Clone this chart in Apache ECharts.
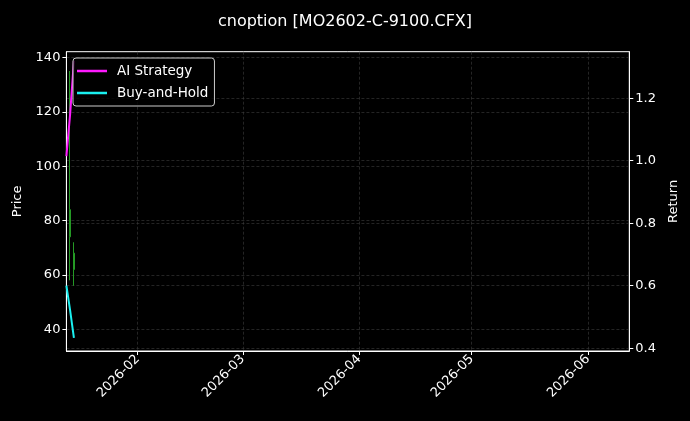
<!DOCTYPE html>
<html>
<head>
<meta charset="utf-8">
<script src="https://cdn.jsdelivr.net/npm/echarts@6/dist/echarts.min.js"></script>
<style>
  html, body { margin: 0; padding: 0; background: #000; }
  #main { width: 690px; height: 421px; }
</style>
</head>
<body>
<div id="main"></div>
<script>
// 日期和数据
var dates = ['2026-01-13', '2026-01-14', '2026-01-15']
var aiReturn = [1.015, 1.15, 1.32]
var bhReturn = [0.60, 0.52, 0.433]

// K线: [date, open, close, low, high]
var candleDates = ['2026-01-14', '2026-01-15']
var candleOpen = [74, 62]
var candleClose = [84, 68]
var candleLow = [58, 56]
var candleHigh = [135, 72]

var priceTicks = [40, 60, 80, 100, 120, 140]
var returnTicks = [0.4, 0.6, 0.8, 1.0, 1.2]

var font = 'DejaVu Sans'
var gridLine = { show: true, lineStyle: { color: '#3c3c3c', width: 0.6, type: [3, 2] } }

var candles = candleDates.map(function (d, i) {
    return [d, candleOpen[i], candleClose[i], candleLow[i], candleHigh[i]]
})

var myChart = echarts.init(document.getElementById('main'))
var option = {
    backgroundColor: '#000',
    animation: false,
    textStyle: { fontFamily: font },
    title: {
        text: 'cnoption [MO2602-C-9100.CFX]',
        left: 'center',
        top: 9,
        textStyle: { color: '#fff', fontSize: 16, fontWeight: 'normal', fontFamily: font }
    },
    legend: {
        data: ['AI Strategy', 'Buy-and-Hold'],
        orient: 'vertical',
        left: 73,
        top: 58,
        icon: 'rect',
        itemWidth: 30,
        itemHeight: 2.5,
        itemGap: 8,
        padding: [6, 6, 6, 4],
        backgroundColor: 'rgba(0,0,0,0.8)',
        borderColor: '#ccc',
        borderWidth: 1,
        borderRadius: 3,
        textStyle: { color: '#fff', fontSize: 13.5, fontFamily: font, padding: [0, 0, 0, 5] }
    },
    grid: {
        left: 66.4, right: 60.7, top: 51.7, bottom: 70,
        outerBoundsMode: 'none',
        show: true, borderColor: '#fff', borderWidth: 1
    },
    xAxis: {
        type: 'time',
        min: '2026-01-13',
        max: '2026-06-12',
        minInterval: 28 * 86400000,
        axisLine: { lineStyle: { color: '#fff' } },
        axisTick: { lineStyle: { color: '#fff' }, length: 4 },
        axisLabel: {
            color: '#fff', fontSize: 13, rotate: 45, margin: 6,
            formatter: '{yyyy}-{MM}', showMinLabel: false, showMaxLabel: false
        },
        splitLine: gridLine
    },
    yAxis: [{
        type: 'value',
        name: 'Price',
        nameLocation: 'middle',
        nameGap: 42,
        nameTextStyle: { color: '#fff', fontSize: 13 },
        min: 32.0,
        max: 142.1,
        axisLine: { show: true, lineStyle: { color: '#fff' } },
        axisTick: { show: true, length: 4, lineStyle: { color: '#fff' }, customValues: priceTicks },
        axisLabel: { color: '#fff', fontSize: 13, margin: 6, customValues: priceTicks },
        splitLine: gridLine
    }, {
        type: 'value',
        name: 'Return',
        nameLocation: 'middle',
        nameGap: 38,
        nameTextStyle: { color: '#fff', fontSize: 13 },
        min: 0.391,
        max: 1.349,
        position: 'right',
        axisLine: { show: true, lineStyle: { color: '#fff' } },
        axisTick: { show: true, length: 4, lineStyle: { color: '#fff' }, customValues: returnTicks },
        axisLabel: {
            color: '#fff', fontSize: 13, margin: 6, customValues: returnTicks,
            formatter: function (v) { return v.toFixed(1) }
        },
        splitLine: gridLine
    }],
    series: [{
        name: 'Price',
        type: 'candlestick',
        yAxisIndex: 0,
        barWidth: 2,
        encode: { x: 0, y: [1, 2, 3, 4] },
        itemStyle: {
            color: '#1f8f1f', color0: '#c02020',
            borderColor: '#259a25', borderColor0: '#c02020', borderWidth: 1
        },
        data: candles
    }, {
        name: 'AI Strategy',
        type: 'line',
        yAxisIndex: 1,
        showSymbol: false,
        lineStyle: { color: '#ff1aff', width: 2 },
        itemStyle: { color: '#ff1aff' },
        data: dates.map(function (d, i) { return [d, aiReturn[i]] })
    }, {
        name: 'Buy-and-Hold',
        type: 'line',
        yAxisIndex: 1,
        showSymbol: false,
        lineStyle: { color: '#1af0f0', width: 2 },
        itemStyle: { color: '#1af0f0' },
        data: dates.map(function (d, i) { return [d, bhReturn[i]] })
    }]
}
myChart.setOption(option)
</script>
</body>
</html>
